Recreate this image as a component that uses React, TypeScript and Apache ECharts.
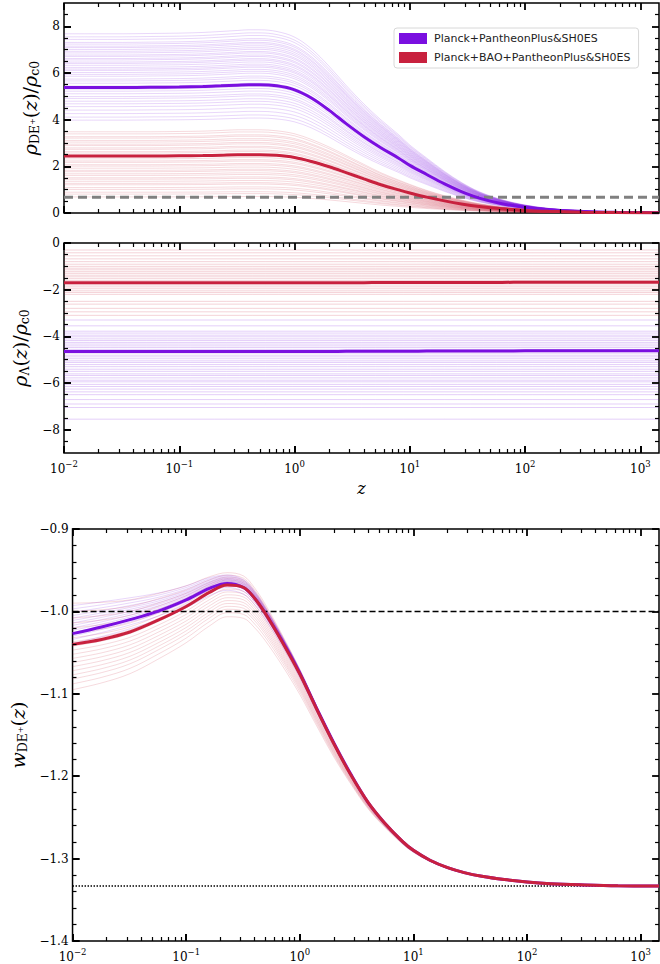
import React, { useEffect, useRef } from 'react';
import * as echarts from 'echarts';

// ---------- data ----------
const zGrid = [0.01, 0.018, 0.032, 0.056, 0.1, 0.16, 0.23, 0.32, 0.4, 0.5, 0.7, 1, 1.4, 2, 2.8, 4, 5.6, 8, 10, 14, 20, 28, 40, 63, 100, 160, 320, 630, 1450];
const zMin = 0.01;
const zMax = 1450;

const nameP = 'Planck+PantheonPlus&SH0ES';
const nameR = 'Planck+BAO+PantheonPlus&SH0ES';

// rho_DE+(z)/rho_c0 best fits
const rhoDEP = [5.38, 5.38, 5.38, 5.39, 5.40, 5.42, 5.45, 5.48, 5.50, 5.50, 5.45, 5.28, 4.93, 4.40, 3.83, 3.27, 2.80, 2.35, 2.04, 1.65, 1.25, 0.92, 0.64, 0.40, 0.24, 0.14, 0.065, 0.03, 0.015];
const rhoDER = [2.44, 2.44, 2.44, 2.44, 2.45, 2.46, 2.48, 2.50, 2.50, 2.50, 2.47, 2.38, 2.21, 1.98, 1.73, 1.46, 1.21, 0.99, 0.86, 0.68, 0.52, 0.39, 0.28, 0.18, 0.11, 0.07, 0.035, 0.018, 0.01];
// low-z levels of the sample curves
const rhoDESampP = [7.68, 7.55, 7.44, 7.31, 7.24, 7.15, 7.09, 7.01, 6.93, 6.86, 6.77, 6.71, 6.62, 6.56, 6.47, 6.41, 6.33, 6.24, 6.17, 6.11, 6.02, 5.94, 5.86, 5.74, 5.66, 5.56, 5.44, 5.31, 5.22, 5.11, 4.99, 4.91, 4.79, 4.68, 4.56, 4.41, 4.26, 4.11, 3.98];
const rhoDESampR = [3.48, 3.39, 3.27, 3.21, 3.11, 3.04, 2.95, 2.89, 2.79, 2.73, 2.63, 2.57, 2.47, 2.41, 2.32, 2.23, 2.17, 2.07, 2.01, 1.92, 1.83, 1.77, 1.68, 1.61, 1.51, 1.45, 1.36, 1.27, 1.21, 1.09, 1.01, 0.89, 0.81, 0.69];
const rhoRef = 0.68;

// rho_Lambda(z)/rho_c0
const rhoLP = [-4.65, -4.65, -4.65, -4.65, -4.65, -4.65, -4.65, -4.65, -4.65, -4.65, -4.65, -4.65, -4.65, -4.65, -4.64, -4.64, -4.64, -4.64, -4.64, -4.63, -4.63, -4.63, -4.63, -4.63, -4.62, -4.62, -4.62, -4.62, -4.62];
const rhoLR = [-1.70, -1.70, -1.70, -1.70, -1.70, -1.70, -1.70, -1.70, -1.70, -1.70, -1.70, -1.70, -1.70, -1.70, -1.70, -1.70, -1.69, -1.69, -1.69, -1.69, -1.69, -1.69, -1.69, -1.69, -1.68, -1.68, -1.68, -1.68, -1.68];
const rhoLSampP = [-3.30, -3.55, -3.78, -3.86, -3.95, -4.02, -4.11, -4.18, -4.26, -4.33, -4.41, -4.48, -4.56, -4.72, -4.81, -4.88, -4.96, -5.05, -5.12, -5.21, -5.30, -5.41, -5.50, -5.61, -5.68, -5.78, -5.88, -5.95, -6.06, -6.15, -6.26, -6.38, -6.50, -6.71, -6.90, -7.05, -7.55];
const rhoLSampR = [-0.30, -0.42, -0.55, -0.68, -0.80, -0.91, -1.00, -1.08, -1.15, -1.23, -1.30, -1.38, -1.45, -1.53, -1.61, -1.80, -1.88, -1.96, -2.05, -2.12, -2.20, -2.50, -2.62, -2.80, -2.95, -3.10];

// w_DE+(z)
const wP = [-1.027, -1.019, -1.010, -1.000, -0.986, -0.972, -0.966, -0.971, -0.984, -1.003, -1.036, -1.075, -1.117, -1.160, -1.197, -1.232, -1.257, -1.279, -1.290, -1.302, -1.311, -1.317, -1.3215, -1.3255, -1.3285, -1.3305, -1.332, -1.333, -1.3333];
const wR = [-1.040, -1.034, -1.025, -1.011, -0.994, -0.977, -0.968, -0.971, -0.984, -1.003, -1.037, -1.076, -1.118, -1.161, -1.198, -1.232, -1.257, -1.279, -1.290, -1.302, -1.311, -1.317, -1.3215, -1.3255, -1.3285, -1.3305, -1.332, -1.333, -1.3333];
// spread of the sample curves (offset at z=0.01) and how the spread fades with z
const wSampP = [0.034, 0.030, 0.026, 0.022, 0.019, 0.016, 0.013, 0.010, 0.007, 0.004, 0.001, -0.003, -0.007, -0.012];
const wSampR = [0.050, 0.040, 0.032, 0.026, 0.020, 0.014, 0.008, 0.003, -0.002, -0.007, -0.012, -0.017, -0.022, -0.027, -0.032, -0.037, -0.042, -0.048, -0.055];
const wSpreadUp = [1, 0.9, 0.78, 0.65, 0.5, 0.38, 0.3, 0.28, 0.25, 0.22, 0.17, 0.12, 0.08, 0.05, 0.03, 0.02, 0.01, 0, 0, 0, 0, 0, 0, 0, 0, 0, 0, 0, 0];
const wSpreadDown = [1, 0.96, 0.92, 0.86, 0.8, 0.74, 0.7, 0.68, 0.65, 0.6, 0.52, 0.45, 0.37, 0.29, 0.2, 0.14, 0.09, 0.06, 0.045, 0.03, 0.02, 0.012, 0.007, 0.003, 0.001, 0, 0, 0, 0];
const wRef1 = -1.0;
const wRef2 = -4 / 3;

// axis ticks
const xDecades = [-2, -1, 0, 1, 2, 3];
const yTicksTop = [0, 2, 4, 6, 8];
const yTicksMid = [-8, -6, -4, -2, 0];
const yTicksBot = [-1.4, -1.3, -1.2, -1.1, -1.0, -0.9];

// ---------- layout ----------
const GRID_LEFT = 64;
const GRID_W = 595;
const GRID_TOPS = [3, 243, 529];
const GRID_HS = [210, 210, 412];

// ---------- helpers ----------
const colP = '#7a0fe0';
const colR = '#c8213e';
const L = (z: number) => Math.log10(z);
const xLo = L(zMin);
const xHi = L(zMax);
const curve = (vals: number[]) => zGrid.map((z, i) => [L(z), vals[i]]);

const xMinors: number[] = [];
xDecades.forEach((k) => {
  for (let m = 2; m <= 9; m++) {
    const x = L(m * Math.pow(10, k));
    if (x < xHi) xMinors.push(x);
  }
});
function yMinors(min: number, max: number, step: number, majors: number[]) {
  const out: number[] = [];
  const n = Math.round((max - min) / step);
  for (let i = 1; i < n; i++) {
    const y = +(min + i * step).toFixed(6);
    if (!majors.some((v) => Math.abs(v - y) < 1e-6)) out.push(y);
  }
  return out;
}

const panels = [
  { min: 0, max: 9, majors: yTicksTop, step: 0.5 },
  { min: -9, max: 0, majors: yTicksMid, step: 0.5 },
  { min: -1.4, max: -0.9, majors: yTicksBot, step: 0.02 },
];

const MAJ = 7;
const MIN = 4;

// tick segments in data units (length converted from pixels with the axis span)
function tickSegments(g: number, len: number, xs: number[], ys: number[]) {
  const p = panels[g];
  const dx = (len * (xHi - xLo)) / GRID_W;
  const dy = (len * (p.max - p.min)) / GRID_HS[g];
  const segs: any[] = [];
  xs.forEach((x) => {
    segs.push({ coords: [[x, p.min], [x, p.min + dy]] });
    segs.push({ coords: [[x, p.max], [x, p.max - dy]] });
  });
  ys.forEach((y) => {
    segs.push({ coords: [[xLo, y], [xLo + dx, y]] });
    segs.push({ coords: [[xHi, y], [xHi - dx, y]] });
  });
  return {
    type: 'lines',
    coordinateSystem: 'cartesian2d',
    xAxisIndex: g,
    yAxisIndex: g,
    silent: true,
    z: 10,
    polyline: false,
    clip: false,
    lineStyle: { color: '#000', width: len === MAJ ? 1.8 : 1.2, opacity: 1, curveness: 0 },
    data: segs,
  };
}

function sampleLine(g: number, data: number[][], color: string, opacity: number) {
  return {
    type: 'line',
    xAxisIndex: g,
    yAxisIndex: g,
    data,
    symbol: 'none',
    smooth: 0.35,
    silent: true,
    z: 1,
    lineStyle: { color, width: 1, opacity },
  };
}

function mainLine(g: number, name: string, data: number[][], color: string) {
  return {
    type: 'line',
    name,
    xAxisIndex: g,
    yAxisIndex: g,
    data,
    symbol: 'none',
    smooth: 0.35,
    z: 4,
    itemStyle: { color },
    lineStyle: { color, width: 3 },
  };
}

function refLine(g: number, y: number, color: string, width: number, type: any) {
  return {
    type: 'line',
    xAxisIndex: g,
    yAxisIndex: g,
    data: [[xLo, y], [xHi, y]],
    symbol: 'none',
    silent: true,
    z: 3,
    lineStyle: { color, width, type },
  };
}

const serif = 'DejaVu Serif';

const xLabelFmt = (v: number) => {
  const e = Math.round(v);
  return '{b|10}{s|' + (e < 0 ? '\u2212' : '') + Math.abs(e) + '}';
};
const richX = {
  b: { fontFamily: serif, fontSize: 12, color: '#000', lineHeight: 16, verticalAlign: 'bottom' },
  s: { fontFamily: serif, fontSize: 8.5, color: '#000', lineHeight: 16, verticalAlign: 'top' },
};

const nameRich = {
  i: { fontFamily: serif, fontStyle: 'italic', fontSize: 19, color: '#000', lineHeight: 22, verticalAlign: 'middle' },
  n: { fontFamily: serif, fontSize: 19, color: '#000', lineHeight: 22, verticalAlign: 'middle' },
  s: { fontFamily: serif, fontSize: 12.5, color: '#000', lineHeight: 9, verticalAlign: 'bottom' },
};

const minus = (s: string) => s.replace('-', '\u2212');

function xAxisFor(g: number, labels: boolean, name?: string) {
  return {
    type: 'value',
    gridIndex: g,
    position: 'bottom',
    min: xLo,
    max: xHi,
    axisLine: { show: false, onZero: false },
    splitLine: { show: false },
    axisTick: { show: true, inside: true, length: MAJ, customValues: xDecades, lineStyle: { color: '#000', width: 1.8 } },
    axisLabel: labels
      ? { show: true, customValues: xDecades, formatter: xLabelFmt, margin: 6, rich: richX }
      : { show: false },
    name: name || '',
    nameLocation: 'middle',
    nameGap: 27,
    nameTextStyle: { fontFamily: serif, fontStyle: 'italic', fontSize: 16, color: '#000' },
  };
}

function yAxisFor(g: number, fmt: (v: number) => string, name: string, nameGap: number) {
  const p = panels[g];
  return {
    type: 'value',
    gridIndex: g,
    position: 'left',
    min: p.min,
    max: p.max,
    axisLine: { show: false, onZero: false },
    splitLine: { show: false },
    axisTick: { show: true, inside: true, length: MAJ, customValues: p.majors, lineStyle: { color: '#000', width: 1.8 } },
    axisLabel: { show: true, customValues: p.majors, formatter: fmt, margin: 4, fontFamily: serif, fontSize: 12, color: '#000' },
    name,
    nameLocation: 'middle',
    nameRotate: 90,
    nameGap,
    nameTextStyle: { rich: nameRich },
  };
}

export default function App() {
  const ref = useRef<HTMLDivElement>(null);
  useEffect(() => {
    document.body.style.margin = '0';
    const chart = echarts.init(ref.current!, null, { renderer: 'svg' });

    const series: any[] = [];
    // top panel
    rhoDESampP.forEach((a) => series.push(sampleLine(0, curve(rhoDEP.map((v) => (v * a) / rhoDEP[0])), colP, 0.17)));
    rhoDESampR.forEach((a) => series.push(sampleLine(0, curve(rhoDER.map((v) => (v * a) / rhoDER[0])), colR, 0.17)));
    series.push(refLine(0, rhoRef, '#808080', 3, [9, 5]));
    series.push(mainLine(0, nameP, curve(rhoDEP), colP));
    series.push(mainLine(0, nameR, curve(rhoDER), colR));
    // middle panel
    rhoLSampR.forEach((a) => series.push(sampleLine(1, [[xLo, a], [xHi, a]], colR, 0.2)));
    rhoLSampP.forEach((a) => series.push(sampleLine(1, [[xLo, a], [xHi, a]], colP, 0.2)));
    series.push(mainLine(1, nameR, curve(rhoLR), colR));
    series.push(mainLine(1, nameP, curve(rhoLP), colP));
    // bottom panel
    wSampR.forEach((d) => series.push(sampleLine(2, curve(wR.map((v, i) => v + d * (d > 0 ? wSpreadUp[i] : wSpreadDown[i]))), colR, 0.17)));
    wSampP.forEach((d) => series.push(sampleLine(2, curve(wP.map((v, i) => v + d * (d > 0 ? wSpreadUp[i] : wSpreadDown[i]))), colP, 0.17)));
    series.push(refLine(2, wRef1, '#000', 1.5, [6, 3]));
    series.push(refLine(2, wRef2, '#000', 1.5, [1.5, 1.5]));
    series.push(mainLine(2, nameP, curve(wP), colP));
    series.push(mainLine(2, nameR, curve(wR), colR));
    // ticks on all four sides
    panels.forEach((p, g) => {
      series.push(tickSegments(g, MAJ, xDecades, p.majors));
      series.push(tickSegments(g, MIN, xMinors, yMinors(p.min, p.max, p.step, p.majors)));
    });

    const gridBase = { show: true, borderColor: '#000', borderWidth: 1.5, backgroundColor: 'transparent', left: GRID_LEFT, width: GRID_W };

    chart.setOption({
      animation: false,
      grid: GRID_TOPS.map((t, i) => ({ ...gridBase, top: t, height: GRID_HS[i] })),
      xAxis: [xAxisFor(0, false), xAxisFor(1, true, 'z'), xAxisFor(2, true)],
      yAxis: [
        yAxisFor(0, (v) => String(v), '{i|ρ}{s|DE⁺}{n|(}{i|z}{n|)/}{i|ρ}{s|c0}', 12),
        yAxisFor(1, (v) => minus(String(v)), '{i|ρ}{s|Λ}{n|(}{i|z}{n|)/}{i|ρ}{s|c0}', 15),
        yAxisFor(2, (v) => minus(v.toFixed(1)), '{i|w}{s|DE⁺}{n|(}{i|z}{n|)}', 30),
      ],
      legend: {
        data: [
          { name: nameP, icon: 'rect' },
          { name: nameR, icon: 'rect' },
        ],
        orient: 'vertical',
        left: 394,
        top: 28,
        padding: [5, 8, 5, 5],
        itemWidth: 28,
        itemHeight: 11,
        itemGap: 8,
        backgroundColor: '#fff',
        borderColor: '#d8d8d8',
        borderWidth: 1,
        borderRadius: 3,
        selectedMode: false,
        textStyle: { fontFamily: 'DejaVu Sans', fontSize: 11, color: '#222', padding: [0, 0, 0, 2] },
      },
      series,
    });

    return () => chart.dispose();
  }, []);
  return <div ref={ref} style={{ position: 'absolute', left: 0, top: 0, width: 660, height: 964 }} />;
}
